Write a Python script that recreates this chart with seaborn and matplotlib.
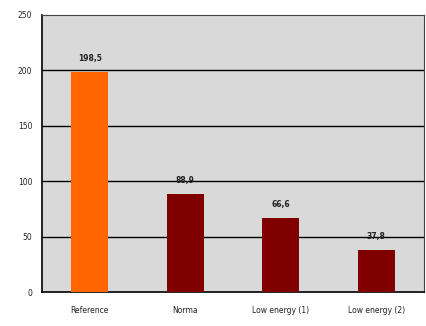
import matplotlib
matplotlib.use("Agg")
import matplotlib.pyplot as plt
import seaborn as sns
import pandas as pd

categories = ["Reference", "Norma", "Low energy (1)", "Low energy (2)"]
values = [198.5, 88.9, 66.6, 37.8]
value_labels = ["198,5", "88,9", "66,6", "37,8"]
colors = ["#ff6600", "#800000", "#800000", "#800000"]

df = pd.DataFrame({"cat": categories, "val": values})

sns.set_style("white")
plt.rcParams['font.family'] = ['DejaVu Sans']

fig = plt.figure(figsize=(4.26, 3.26), dpi=100)
ax = fig.add_axes([0.099, 0.104, 0.896, 0.850])
ax.set_facecolor("#d9d9d9")

sns.barplot(data=df, x="cat", y="val", hue="cat", palette=colors, legend=False,
            width=0.39, ax=ax, saturation=1, zorder=3, linewidth=0, edgecolor="none")

ax.set_ylim(0, 250)
ax.set_xlim(-0.5, 3.5)
ax.set_yticks([0, 50, 100, 150, 200, 250])
for y in [50, 100, 150, 200]:
    ax.axhline(y, color="black", lw=1.0, zorder=2)

for i, (v, lab) in enumerate(zip(values, value_labels)):
    ax.text(i, v + 8, lab, ha="center", va="bottom", fontsize=5.5,
            color="#222222", fontweight="bold", zorder=5)

ax.set_xlabel("")
ax.set_ylabel("")
ax.set_xticks([-0.5, 0.5, 1.5, 2.5, 3.5], minor=False)
ax.set_xticklabels([])
ax.set_xticks([0, 1, 2, 3], minor=True)
ax.set_xticklabels(categories, minor=True, fontsize=5.5, color="#222222")
ax.tick_params(axis="x", which="minor", length=0, pad=10)
ax.tick_params(axis="x", which="major", length=4, width=1, color="black", direction="out")
ax.tick_params(axis="y", length=4, width=1, color="black", direction="out", labelsize=5.5,
               labelcolor="#222222", pad=3)

for side in ["left", "bottom"]:
    ax.spines[side].set_color("black")
    ax.spines[side].set_linewidth(1.2)
for side in ["top", "right"]:
    ax.spines[side].set_color("#444444")
    ax.spines[side].set_linewidth(0.8)

fig.savefig("out.png", dpi=100)
